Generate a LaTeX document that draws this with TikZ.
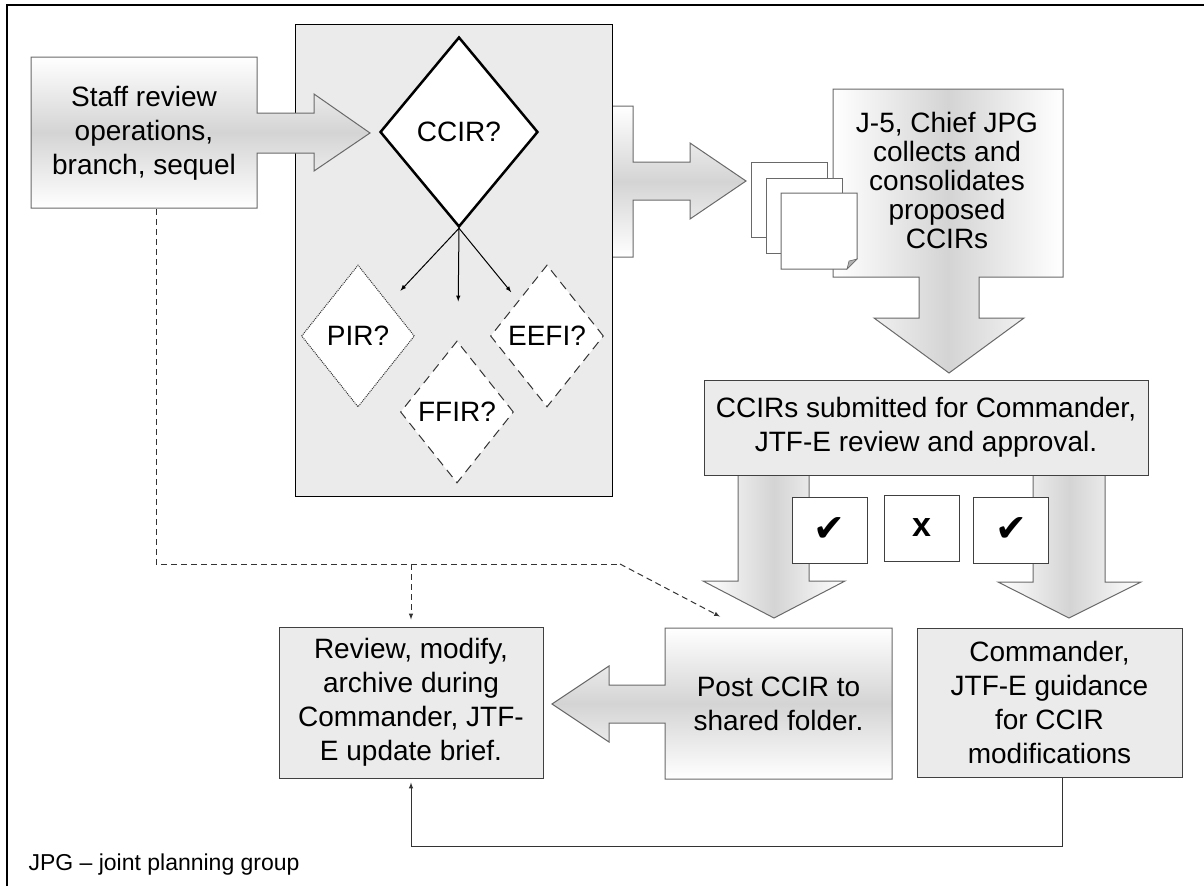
\documentclass[tikz,border=0pt]{standalone}
\usepackage{fontspec}
\setmainfont{Liberation Sans}
\newfontfamily\symfont{DejaVu Sans}
\usetikzlibrary{shapes.geometric}
\definecolor{panelgray}{RGB}{235,235,235}
\definecolor{shadegray}{RGB}{212,212,212}
\definecolor{edgegray}{RGB}{105,105,105}
\begin{document}
\begin{tikzpicture}[x=1pt, y=-1pt, line width=1pt,
  txt/.style={align=center, inner sep=0pt, font=\fontsize{28}{34}\selectfont},
  vshade/.style={draw=edgegray, top color=white, bottom color=white, middle color=shadegray},
  hshade/.style={draw=edgegray, left color=white, right color=white, middle color=shadegray},
  greybox/.style={txt, draw=black!75, fill=panelgray},
  choice/.style={diamond, draw=black!80, fill=white, inner sep=0pt, minimum width=113, minimum height=142, font=\fontsize{28}{34}\selectfont},
  tickbox/.style={draw=black!75, fill=white, minimum width=75, minimum height=66, inner sep=0pt},
  docpage/.style={draw=edgegray, fill=white},
  dashconn/.style={draw=black!80, dash pattern=on 6pt off 4pt}]

\useasboundingbox (0,0) rectangle (1204,886);
\draw[line width=2.5] (7,886) -- (7,5) -- (1204,5);

\draw[vshade] (600,106) -- (633,106) -- (633,162) -- (690,162) -- (690,143) -- (746,181) -- (690,219) -- (690,200) -- (633,200) -- (633,257) -- (600,257) -- cycle;
\draw[fill=panelgray] (295,24) rectangle (612,496);

\draw[vshade] (31,57) -- (257,57) -- (257,113) -- (314,113) -- (314,94) -- (370,133) -- (314,171) -- (314,153) -- (257,153) -- (257,208) -- (31,208) -- cycle;
\node[txt, minimum width=226, minimum height=151] (staff) at (144,133) {Staff review\\operations,\\branch, sequel};

\node[choice, line width=2.5, draw=black, minimum width=158, minimum height=190] (ccir) at (459,132) {CCIR?};
\node[choice, dash pattern=on 1pt off 1pt] (pir) at (358,336) {PIR?};
\node[choice, dash pattern=on 9pt off 6pt] (ffir) at (457,412) {FFIR?};
\node[choice, dash pattern=on 9pt off 6pt] (eefi) at (547,336) {EEFI?};
\draw[-latex, shorten >=17] (ccir.south) -- (pir);
\draw[-latex, shorten >=40] (ccir.south) -- (ffir);
\draw[-latex, shorten >=11] (ccir.south) -- (eefi);

\draw[hshade] (833,89) -- (1063,89) -- (1063,277) -- (979,277) -- (979,318) -- (1024,318) -- (949,373) -- (874,318) -- (919,318) -- (919,277) -- (833,277) -- cycle;
\node[txt, font=\fontsize{28}{29}\selectfont] (jfive) at (947,180) {J-5, Chief JPG\\collects and\\consolidates\\proposed\\CCIRs};

\draw[docpage] (751,162) rectangle (827,237);
\draw[docpage] (766,178) rectangle (842,253);
\draw[docpage] (781,193) -- (857,193) -- (857,259) -- (847,269) -- (781,269) -- cycle;
\draw[draw=edgegray, fill=black!30, line width=0.6] (847,269) -- (849,261) -- (857,259) -- cycle;

\draw[hshade] (738,470) -- (809,470) -- (809,581) -- (845,581) -- (774,618) -- (703,581) -- (738,581) -- cycle;
\draw[hshade] (1033,470) -- (1105,470) -- (1105,582) -- (1141,582) -- (1069,618) -- (998,582) -- (1033,582) -- cycle;
\node[greybox, minimum width=444, minimum height=95] (submit) at (926,427.5) {CCIRs submitted for Commander,\\JTF-E review and approval.};
\node[tickbox, font=\symfont\fontsize{38}{38}\selectfont] (yes1) at (829.5,530) {✔};
\node[tickbox, font=\fontsize{34}{34}\selectfont\bfseries] (no) at (921.5,528) {x};
\node[tickbox, font=\symfont\fontsize{38}{38}\selectfont] (yes2) at (1011,530) {✔};

\draw[vshade] (892,628) -- (892,779) -- (665,779) -- (665,723) -- (609,723) -- (609,742) -- (552,704) -- (609,666) -- (609,685) -- (665,685) -- (665,628) -- cycle;
\node[txt, minimum width=227, minimum height=151] (post) at (778.5,703.5) {Post CCIR to\\shared folder.};

\node[greybox, minimum width=264, minimum height=151] (review) at (411,702.5) {Review, modify,\\archive during\\Commander, JTF-\\E update brief.};
\node[greybox, minimum width=265, minimum height=149] (guide) at (1049.5,702.5) {Commander,\\JTF-E guidance\\for CCIR\\modifications};

\coordinate (fork) at (411,564);
\coordinate (bend) at (620,564);
\draw[dashconn] ([xshift=12]staff.south) |- (bend);
\draw[dashconn, -latex] (bend) -- ([xshift=-58.5,yshift=11]post.north);
\draw[dashconn, -latex] (fork) -- ([yshift=7]review.north);
\draw[draw=black!80, -latex] ([xshift=12.5]guide.south) -- ++(0,69) -| ([yshift=-4]review.south);

\node[anchor=west, inner sep=0pt, font=\fontsize{23}{28}\selectfont] (note) at (28,865) {JPG – joint planning group};

\end{tikzpicture}
\end{document}
